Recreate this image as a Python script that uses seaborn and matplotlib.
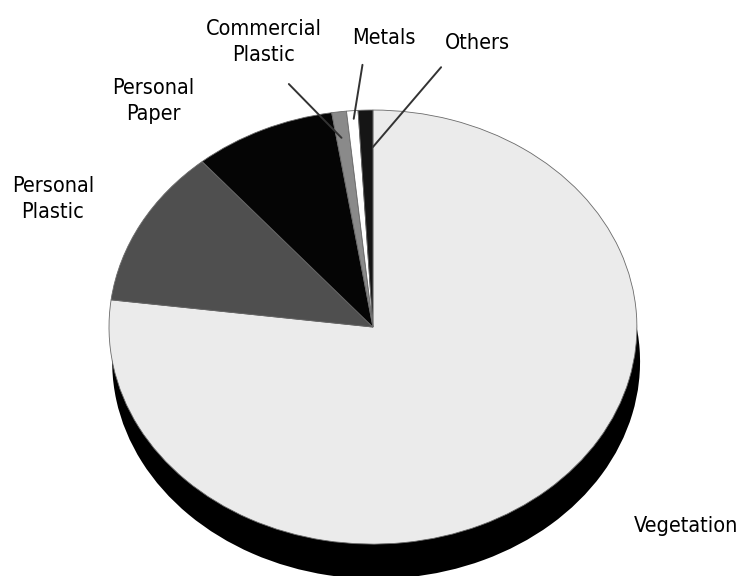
import numpy as np
import matplotlib
matplotlib.use("Agg")
import matplotlib.pyplot as plt
import seaborn as sns

# share of each waste category (in percent)
categories = ["Vegetation", "Personal\nPlastic", "Personal\nPaper",
              "Commercial\nPlastic", "Metals", "Others"]
shares = [77.0, 11.8, 8.7, 0.9, 0.7, 0.9]
slice_colors = ["#ebebeb", "#4f4f4f", "#050505", "#8a8a8a", "#ffffff", "#151515"]

# label anchors (data coords); leader lines only for the thin slices
label_pos = [(1.384, -0.917), (-1.212, 0.590), (-0.833, 1.041),
             (-0.413, 1.313), (0.042, 1.334), (0.394, 1.311)]
label_ha = ["right", "center", "center", "center", "center", "center"]
leader_start = [None, None, None, (-0.326, 1.129), (-0.038, 1.221), (0.265, 1.207)]
leader_r = [None, None, None, 0.87, 0.95, 0.82]
leader_frac = [None, None, None, 0.5, 0.5, 0.15]

if __name__ == "__main__":
    sns.set_theme(style="white")
    plt.rcParams["font.family"] = ["DejaVu Sans"]

    fig = plt.figure(figsize=(7.43, 5.76), dpi=100)
    ax = fig.add_axes([0, 0, 1, 1])

    # dark rim underneath to give the tilted-disc look
    depth = 0.16
    ax.pie(shares, colors=["black"] * len(shares), startangle=90,
           counterclock=False, center=(0.012, -depth),
           wedgeprops=dict(linewidth=0))

    wedges, _ = ax.pie(shares, colors=slice_colors, startangle=90,
                       counterclock=False,
                       wedgeprops=dict(edgecolor="#6a6a6a", linewidth=0.6))

    ax.set_aspect("auto")
    ax.set_xlim(-1.413, 1.402)
    ax.set_ylim(-1.147, 1.507)
    ax.axis("off")

    for i, w in enumerate(wedges):
        lx, ly = label_pos[i]
        ax.text(lx, ly, categories[i], ha=label_ha[i], va="center", fontsize=15.5,
                fontstretch="condensed", linespacing=1.35, color="black")
        if leader_start[i] is not None:
            ang = np.deg2rad(w.theta1 + leader_frac[i] * (w.theta2 - w.theta1))
            r = leader_r[i]
            ax.annotate("", xy=(r * np.cos(ang), r * np.sin(ang)),
                        xytext=leader_start[i],
                        arrowprops=dict(arrowstyle="-", color="#333333", lw=1.4))

    fig.savefig("out.png", dpi=100)
